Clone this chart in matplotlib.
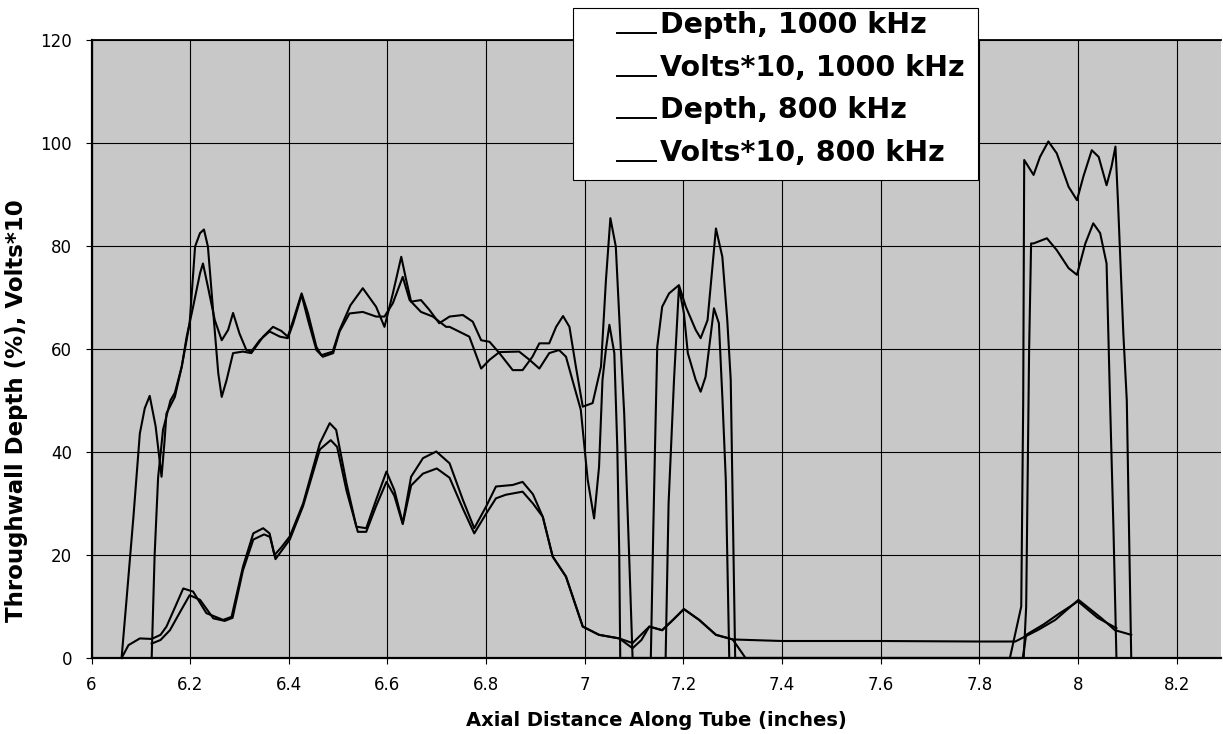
import numpy as np
import matplotlib
matplotlib.use("Agg")
import matplotlib.pyplot as plt
from matplotlib.lines import Line2D
from matplotlib.patches import Rectangle
from matplotlib.ticker import FuncFormatter, MultipleLocator

# --- data ---
depth_1000_x = [6.061, 6.075, 6.098, 6.122, 6.14, 6.152, 6.17, 6.186, 6.206, 6.233, 6.267, 6.284,
                6.307, 6.328, 6.348, 6.361, 6.371, 6.385, 6.402, 6.429, 6.463, 6.483, 6.496, 6.517,
                6.537, 6.557, 6.577, 6.598, 6.614, 6.631, 6.648, 6.672, 6.699, 6.726, 6.753, 6.776,
                6.800, 6.820, 6.854, 6.874, 6.895, 6.915, 6.935, 6.962, 6.996, 7.029, 7.07, 7.097,
                7.131, 7.157, 7.18, 7.201, 7.232, 7.266, 7.30, 7.40, 7.60, 7.80, 7.873, 7.92,
                7.954, 8.001, 8.048, 8.075, 8.108]
depth_1000_y = [0, 2.5, 3.8, 3.7, 4.5, 6.1, 10, 13.5, 12.9, 8.7, 7.4, 8.0,
                17.7, 24.2, 25.2, 24.2, 20.0, 21.5, 23.6, 30, 41.7, 45.6, 44.3, 33.9,
                25.5, 25.2, 30.7, 36.2, 32.6, 26.2, 35.2, 38.8, 40.1, 37.8, 30.7, 25.2,
                29.4, 33.3, 33.6, 34.2, 31.8, 27.4, 19.7, 15.8, 6.1, 4.5, 3.8, 2.9,
                6.1, 5.4, 7.5, 9.5, 7.4, 4.5, 3.6, 3.3, 3.3, 3.2, 3.2, 5.5,
                7.4, 11.3, 7.7, 5.4, 4.5]

volts_1000_x = [6.061, 6.071, 6.085, 6.098, 6.108, 6.118, 6.13, 6.142, 6.148, 6.152, 6.169, 6.183,
                6.199, 6.21, 6.22, 6.228, 6.236, 6.247, 6.257, 6.264, 6.274, 6.287, 6.307, 6.324,
                6.348, 6.368, 6.385, 6.398, 6.409, 6.426, 6.439, 6.456, 6.466, 6.489, 6.503, 6.525,
                6.55, 6.577, 6.594, 6.611, 6.628, 6.638, 6.648, 6.668, 6.685, 6.705, 6.726, 6.753,
                6.773, 6.79, 6.807, 6.827, 6.854, 6.874, 6.894, 6.908, 6.928, 6.942, 6.956, 6.969,
                6.982, 6.996, 7.016, 7.033, 7.043, 7.052, 7.063, 7.073, 7.08, 7.09, 7.097, 7.134,
                7.139, 7.144, 7.147, 7.157, 7.171, 7.191, 7.205, 7.225, 7.235, 7.249, 7.266, 7.279,
                7.289, 7.296, 7.305, 7.862, 7.885, 7.889, 7.891, 7.91, 7.923, 7.94, 7.957, 7.981,
                7.998, 8.011, 8.028, 8.042, 8.058, 8.068, 8.076, 8.081, 8.092, 8.099, 8.108]
volts_1000_y = [0, 11.3, 27.4, 43.6, 48.5, 50.9, 45, 35.2, 42, 47.5, 50.7, 56.6,
                65, 79.9, 82.5, 83.2, 79.9, 66.9, 55.3, 50.7, 54, 59.2, 59.5, 59.2,
                62.4, 64.3, 63.5, 62.4, 65.6, 70.8, 66.9, 60.4, 58.8, 59.5, 63.7, 68.5,
                71.8, 68.2, 64.3, 70.8, 77.9, 73.4, 69.2, 69.5, 67.6, 65, 66.3, 66.6,
                65.3, 61.7, 61.4, 59.2, 55.9, 55.9, 58.5, 61.1, 61.1, 64.3, 66.4, 64.3,
                56.6, 48.8, 49.5, 56.6, 73.4, 85.4, 79.9, 60.4, 47.5, 20, 0, 0,
                25, 47.5, 60.4, 68.2, 70.8, 72.4, 68.2, 63.7, 62.1, 65.6, 83.4, 77.9,
                65.6, 54, 0, 0, 10, 50, 96.7, 93.8, 97.3, 100.3, 98, 91.5,
                88.9, 93.5, 98.6, 97.3, 91.8, 95.4, 99.3, 88.9, 63, 50, 0]

depth_800_x = [6.122, 6.14, 6.159, 6.18, 6.199, 6.22, 6.247, 6.27, 6.286, 6.307, 6.328, 6.35,
               6.362, 6.373, 6.402, 6.429, 6.463, 6.485, 6.498, 6.517, 6.54, 6.557, 6.577, 6.598,
               6.614, 6.631, 6.648, 6.672, 6.70, 6.726, 6.753, 6.776, 6.80, 6.82, 6.84, 6.874,
               6.895, 6.915, 6.935, 6.962, 6.996, 7.029, 7.07, 7.097, 7.115, 7.131, 7.157, 7.18,
               7.201, 7.232, 7.266, 7.30, 7.326, 7.5, 7.7, 7.888, 7.895, 7.93, 7.96, 8.0,
               8.04, 8.078]
depth_800_y = [2.8, 3.5, 5.4, 9, 12.2, 11.3, 7.7, 7.2, 7.8, 17, 23, 24.0,
               23.5, 19.2, 23, 29.5, 40.5, 42.3, 41, 32.5, 24.5, 24.5, 29.5, 34.2,
               31.5, 26.0, 33.5, 35.8, 36.8, 35, 29, 24.2, 28, 31, 31.7, 32.3,
               30, 27.4, 19.7, 15.8, 6.1, 4.5, 3.8, 1.9, 3.5, 6.1, 5.4, 7.5,
               9.5, 7.4, 4.5, 3.6, 0, 0, 0, 0, 4.5, 6.5, 8.5, 11,
               7.8, 5.8]

volts_800_x = [6.122, 6.128, 6.135, 6.145, 6.16, 6.169, 6.183, 6.193, 6.206, 6.22, 6.226, 6.236,
               6.25, 6.264, 6.277, 6.287, 6.30, 6.314, 6.324, 6.341, 6.361, 6.382, 6.398, 6.409,
               6.426, 6.439, 6.456, 6.469, 6.49, 6.503, 6.523, 6.55, 6.577, 6.594, 6.611, 6.631,
               6.645, 6.668, 6.692, 6.719, 6.726, 6.766, 6.79, 6.807, 6.827, 6.867, 6.888, 6.908,
               6.928, 6.948, 6.962, 6.975, 6.992, 7.006, 7.019, 7.029, 7.036, 7.043, 7.05, 7.06,
               7.066, 7.07, 7.072, 7.164, 7.17, 7.181, 7.191, 7.201, 7.209, 7.225, 7.235, 7.245,
               7.262, 7.272, 7.279, 7.286, 7.293, 7.89, 7.895, 7.901, 7.905, 7.91, 7.937, 7.957,
               7.981, 7.998, 8.015, 8.031, 8.045, 8.058, 8.065, 8.072, 8.078]
volts_800_y = [0, 20, 35, 44.3, 50, 51.5, 56.6, 62.4, 68.2, 74.7, 76.6, 72.1,
               65.6, 61.7, 63.7, 67, 63, 59.8, 59.5, 61.7, 63.4, 62.4, 62.1, 65,
               70.5, 65.6, 59.8, 58.5, 59.2, 63.4, 66.9, 67.2, 66.3, 66.3, 68.9, 74,
               69.5, 67.2, 66.3, 64.3, 64.3, 62.4, 56.2, 57.9, 59.4, 59.5, 57.9, 56.2,
               59.2, 59.8, 58.5, 54, 48.2, 34.6, 27.1, 37.1, 54, 60, 64.7, 59.2,
               41, 20, 0, 0, 30, 54, 72, 67, 59.2, 54, 51.7, 54.6,
               67.9, 65, 50.7, 34.6, 0, 0, 10, 60, 80.5, 80.5, 81.5, 79.2,
               75.7, 74.4, 80.5, 84.4, 82.5, 76.6, 50, 25, 0]

series_labels = ["Depth, 1000 kHz", "Volts*10, 1000 kHz", "Depth, 800 kHz", "Volts*10, 800 kHz"]
x_ticks = [6.0, 6.2, 6.4, 6.6, 6.8, 7.0, 7.2, 7.4, 7.6, 7.8, 8.0, 8.2]

W, H = 1223, 734
fig = plt.figure(figsize=(W / 100, H / 100), dpi=100)
fig.patch.set_facecolor("white")

# axes box measured in pixels: x 91.5..1221, y 40..658
ax = fig.add_axes([91.5 / W, (H - 658) / H, (1221 - 91.5) / W, (658 - 40) / H])
ax.set_facecolor("#c8c8c8")

series = [(depth_1000_x, depth_1000_y), (volts_1000_x, volts_1000_y),
          (depth_800_x, depth_800_y), (volts_800_x, volts_800_y)]
for (xs, ys), lab in zip(series, series_labels):
    ax.plot(xs, ys, color="black", lw=1.5, label=lab, zorder=3, clip_on=False,
            solid_joinstyle="round")

ax.set_xlim(6.0, 8.29)
ax.set_ylim(0, 120)
ax.set_xticks(x_ticks)
ax.yaxis.set_major_locator(MultipleLocator(20))
ax.xaxis.set_major_formatter(FuncFormatter(lambda v, p: f"{round(v, 1):g}"))
ax.grid(True, color="black", lw=0.8)
ax.set_axisbelow(True)
ax.tick_params(axis="both", labelsize=12, length=4, width=0.8, color="black")
ax.tick_params(axis="y", pad=10)
ax.tick_params(axis="x", pad=9)

for side in ["left", "bottom"]:
    ax.spines[side].set_linewidth(1.6)
ax.spines["top"].set_linewidth(1.3)
ax.spines["right"].set_visible(False)

ax.set_xlabel("Axial Distance Along Tube (inches)", fontsize=14, fontweight="bold", labelpad=12)
ax.set_ylabel("Throughwall Depth (%), Volts*10", fontsize=16.5, fontweight="bold")
ax.yaxis.set_label_coords(-0.056, 0.40)

# legend box drawn by hand: white panel overlapping the top of the plot
box = Rectangle((573 / W, 1 - 180 / H), 405 / W, 172 / H, transform=fig.transFigure,
                facecolor="white", edgecolor="black", lw=0.8, zorder=5)
fig.add_artist(box)
baselines = [33, 76, 118, 161]
for lab, by in zip(series_labels, baselines):
    yy = 1 - by / H
    fig.add_artist(Line2D([617 / W, 656 / W], [yy, yy], transform=fig.transFigure,
                          color="black", lw=1.4, zorder=6))
    fig.text(660 / W, yy, lab, fontsize=20.5, fontweight="bold", va="baseline",
             ha="left", zorder=6)

fig.savefig("out.png", dpi=100)
